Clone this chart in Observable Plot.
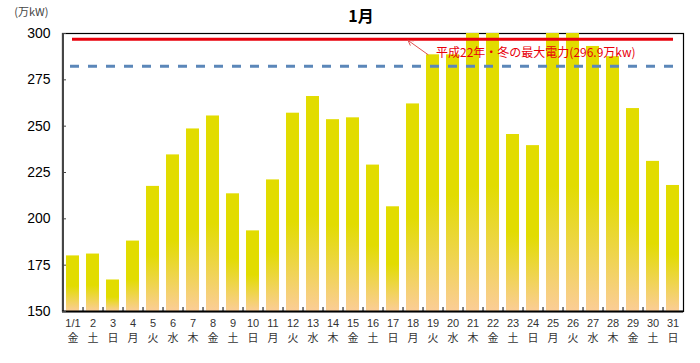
<!DOCTYPE html>
<html>
<head>
<meta charset="utf-8">
<script src="https://cdn.jsdelivr.net/npm/d3@7"></script>
<script src="https://cdn.jsdelivr.net/npm/@observablehq/plot@0.6"></script>
<style>
  html, body { margin: 0; padding: 0; background: #fff; }
  #chart svg { display: block; }
</style>
</head>
<body>
<div id="chart"></div>
<script>
const days = ["1/1","2","3","4","5","6","7","8","9","10","11","12","13","14","15","16","17","18","19","20","21","22","23","24","25","26","27","28","29","30","31"];
const weekdays = ["金","土","日","月","火","水","木","金","土","日","月","火","水","木","金","土","日","月","火","水","木","金","土","日","月","火","水","木","金","土","日"];
const peakPower = [180, 181, 167, 188, 217.5, 234.5, 248.5, 255.5, 213.5, 193.5, 221, 257, 266, 253.5, 254.5, 229, 206.5, 262, 288.5, 288.5, 305, 305, 245.5, 239.5, 305, 305, 293, 287.5, 259.5, 231, 218];
const yTicks = [150, 175, 200, 225, 250, 275, 300];
const recordValue = 296.9;
const supplyLine = 282.3;
const title = "1月";
const unitLabel = "(万kW)";
const annotation = "平成22年・冬の最大電力(296.9万kw)";

const data = days.map((d, i) => ({day: d, wd: weekdays[i], v: peakPower[i]}));

const W = 700, H = 363, mL = 62, mR = 17, mT = 33, mB = 52;
const step = (W - mL - mR) / days.length;
const plotH = H - mT - mB;
const font = "'Liberation Sans', 'Noto Sans CJK JP', sans-serif";

const chart = Plot.plot({
  width: W,
  height: H,
  marginLeft: mL,
  marginRight: mR,
  marginTop: mT,
  marginBottom: mB,
  style: {fontFamily: font, background: "#fff", overflow: "visible"},
  x: {domain: days, paddingInner: 0.35, paddingOuter: 0.175, axis: null},
  y: {domain: [150, 300], clamp: true, axis: null},
  marks: [
    Plot.frame({stroke: "#000", strokeWidth: 1.2}),
    Plot.barY(data, {x: "day", y1: 150, y2: "v", fill: "url(#barGrad)"}),
    Plot.ruleY([supplyLine], {stroke: "#5b87b9", strokeWidth: 3, strokeDasharray: "9,9", insetLeft: 8, insetRight: 8}),
    Plot.ruleY([recordValue], {stroke: "#e8000b", strokeWidth: 3, insetLeft: 10, insetRight: 10}),
    // left & bottom axis lines
    Plot.ruleX([days[0]], {x: d => d, dx: -step / 2, stroke: "#444", strokeWidth: 2}),
    Plot.ruleY([150], {stroke: "#000", strokeWidth: 2}),
    // inner y ticks
    Plot.tickY(yTicks, {y: d => d, stroke: "#444", strokeWidth: 1, insetRight: W - mL - mR - 4}),
    // inner x ticks between bars
    Plot.tickX(days.slice(0, -1), {x: d => d, dx: step / 2, stroke: "#000", strokeWidth: 1, insetTop: plotH - 4}),
    // y labels
    Plot.text(yTicks, {y: d => d, text: d => String(d), frameAnchor: "left", textAnchor: "end", lineAnchor: "middle", dx: -12, fontSize: 14, fill: "#000"}),
    // x labels
    Plot.text(data, {x: "day", text: "day", frameAnchor: "bottom", lineAnchor: "middle", dy: 12, fontSize: 11, fill: "#333"}),
    Plot.text(data, {x: "day", text: "wd", frameAnchor: "bottom", lineAnchor: "middle", dy: 27, fontSize: 11, fill: "#333", fontFamily: "'Noto Sans CJK JP', sans-serif"}),
    // annotation
    Plot.arrow([{x1: days[18], y1: 288.6, x2: days[17], y2: 296.3}], {x1: "x1", y1: "y1", x2: "x2", y2: "y2", dx: -5, stroke: "#e05050", strokeWidth: 1, headLength: 8}),
    Plot.text([annotation], {x: () => days[18], y: () => 289.2, text: d => d, textAnchor: "start", lineAnchor: "middle", dx: 3, fontSize: 12, fill: "#e8000b", fontFamily: "'Noto Sans CJK JP', sans-serif"}),
    // title & unit
    Plot.text([title], {text: d => d, frameAnchor: "top", lineAnchor: "middle", dx: -12, dy: -17, fontSize: 16, fontWeight: "bold", fill: "#000", fontFamily: "'Noto Sans CJK JP', sans-serif"}),
    Plot.text([unitLabel], {text: d => d, frameAnchor: "top-left", textAnchor: "end", lineAnchor: "middle", dx: -14, dy: -21, fontSize: 11, fill: "#444", fontFamily: "'Noto Sans CJK JP', sans-serif"})
  ]
});

// gradient for bars
const ns = "http://www.w3.org/2000/svg";
const defs = document.createElementNS(ns, "defs");
const grad = document.createElementNS(ns, "linearGradient");
grad.setAttribute("id", "barGrad");
grad.setAttribute("x1", "0"); grad.setAttribute("y1", "0");
grad.setAttribute("x2", "0"); grad.setAttribute("y2", "1");
[["0%", "#e2dc00"], ["55%", "#e2dc00"], ["100%", "#fbcd96"]].forEach(([o, c]) => {
  const s = document.createElementNS(ns, "stop");
  s.setAttribute("offset", o); s.setAttribute("stop-color", c);
  grad.appendChild(s);
});
defs.appendChild(grad);
chart.insertBefore(defs, chart.firstChild);

document.getElementById("chart").appendChild(chart);
</script>
</body>
</html>
